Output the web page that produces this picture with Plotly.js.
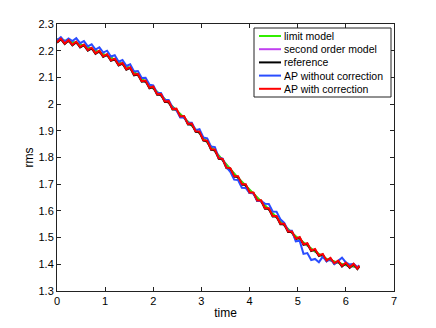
<!DOCTYPE html>
<html>
<head>
<meta charset="utf-8">
<script src="https://cdn.plot.ly/plotly-3.0.1.min.js"></script>
<style>
  html, body { margin: 0; padding: 0; background: #fff; }
  #chart { width: 436px; height: 328px; }
</style>
</head>
<body>
<div id="chart"></div>
<script>
// time samples
const time = [0.00, 0.08, 0.16, 0.24, 0.32, 0.40, 0.48, 0.56, 0.64, 0.72,
              0.80, 0.88, 0.96, 1.04, 1.12, 1.20, 1.28, 1.36, 1.44, 1.52,
              1.60, 1.68, 1.76, 1.84, 1.92, 2.00, 2.08, 2.16, 2.24, 2.32,
              2.40, 2.48, 2.56, 2.64, 2.72, 2.80, 2.88, 2.96, 3.04, 3.12,
              3.20, 3.28, 3.36, 3.44, 3.52, 3.60, 3.68, 3.76, 3.84, 3.92,
              4.00, 4.08, 4.16, 4.24, 4.32, 4.40, 4.48, 4.56, 4.64, 4.72,
              4.80, 4.88, 4.96, 5.04, 5.12, 5.20, 5.28, 5.36, 5.44, 5.52,
              5.60, 5.68, 5.76, 5.84, 5.92, 6.00, 6.08, 6.16, 6.24, 6.28];

const limitModel = [2.243, 2.241, 2.238, 2.236, 2.233, 2.230, 2.225, 2.219, 2.213, 2.207,
                    2.201, 2.196, 2.190, 2.183, 2.175, 2.166, 2.158, 2.150, 2.142, 2.134,
                    2.121, 2.109, 2.097, 2.084, 2.072, 2.060, 2.046, 2.032, 2.019, 2.005,
                    1.991, 1.977, 1.963, 1.949, 1.935, 1.921, 1.907, 1.891, 1.874, 1.857,
                    1.840, 1.824, 1.806, 1.789, 1.771, 1.754, 1.739, 1.724, 1.709, 1.694,
                    1.678, 1.663, 1.648, 1.634, 1.619, 1.604, 1.590, 1.575, 1.561, 1.546,
                    1.532, 1.517, 1.505, 1.493, 1.481, 1.470, 1.458, 1.448, 1.439, 1.430,
                    1.420, 1.415, 1.410, 1.405, 1.400, 1.397, 1.395, 1.393, 1.390, 1.389];

const secondOrder = [2.243, 2.241, 2.238, 2.235, 2.232, 2.229, 2.224, 2.218, 2.212, 2.206,
                     2.200, 2.195, 2.189, 2.182, 2.174, 2.165, 2.157, 2.149, 2.141, 2.133,
                     2.120, 2.108, 2.096, 2.083, 2.071, 2.059, 2.045, 2.031, 2.018, 2.004,
                     1.990, 1.976, 1.962, 1.948, 1.934, 1.920, 1.906, 1.890, 1.873, 1.856,
                     1.839, 1.823, 1.805, 1.788, 1.770, 1.753, 1.738, 1.723, 1.708, 1.693,
                     1.677, 1.662, 1.647, 1.633, 1.618, 1.603, 1.589, 1.574, 1.560, 1.545,
                     1.531, 1.516, 1.504, 1.492, 1.480, 1.469, 1.457, 1.447, 1.438, 1.429,
                     1.419, 1.414, 1.409, 1.404, 1.399, 1.396, 1.394, 1.392, 1.389, 1.388];

const reference = [2.230, 2.243, 2.225, 2.238, 2.220, 2.232, 2.212, 2.221, 2.200, 2.209,
                   2.188, 2.198, 2.177, 2.185, 2.162, 2.168, 2.145, 2.152, 2.129, 2.136,
                   2.108, 2.111, 2.084, 2.086, 2.059, 2.064, 2.035, 2.036, 2.008, 2.009,
                   1.980, 1.981, 1.952, 1.953, 1.924, 1.925, 1.896, 1.895, 1.863, 1.861,
                   1.829, 1.828, 1.795, 1.793, 1.760, 1.758, 1.728, 1.728, 1.698, 1.698,
                   1.667, 1.667, 1.637, 1.638, 1.608, 1.608, 1.579, 1.579, 1.550, 1.550,
                   1.521, 1.521, 1.494, 1.500, 1.473, 1.477, 1.450, 1.455, 1.431, 1.437,
                   1.412, 1.422, 1.402, 1.412, 1.392, 1.404, 1.387, 1.400, 1.382, 1.393];

const apWithout = [2.239, 2.251, 2.234, 2.246, 2.236, 2.247, 2.228, 2.236, 2.216, 2.224,
                   2.204, 2.213, 2.193, 2.200, 2.178, 2.183, 2.159, 2.165, 2.143, 2.149,
                   2.122, 2.124, 2.098, 2.099, 2.073, 2.070, 2.042, 2.042, 2.015, 2.015,
                   1.987, 1.978, 1.950, 1.950, 1.930, 1.930, 1.902, 1.906, 1.875, 1.872,
                   1.841, 1.839, 1.799, 1.796, 1.764, 1.746, 1.717, 1.716, 1.687, 1.686,
                   1.667, 1.666, 1.637, 1.637, 1.627, 1.626, 1.598, 1.597, 1.569, 1.555,
                   1.527, 1.526, 1.486, 1.488, 1.439, 1.442, 1.416, 1.420, 1.408, 1.429,
                   1.411, 1.420, 1.401, 1.414, 1.425, 1.407, 1.399, 1.402, 1.390, 1.396];

const apWith = [2.232, 2.245, 2.227, 2.240, 2.222, 2.234, 2.214, 2.223, 2.202, 2.211,
                2.190, 2.200, 2.179, 2.187, 2.164, 2.170, 2.147, 2.154, 2.131, 2.138,
                2.110, 2.113, 2.086, 2.088, 2.061, 2.066, 2.037, 2.038, 2.010, 2.011,
                1.982, 1.983, 1.954, 1.955, 1.926, 1.927, 1.898, 1.897, 1.865, 1.863,
                1.831, 1.830, 1.797, 1.795, 1.762, 1.760, 1.730, 1.730, 1.700, 1.700,
                1.669, 1.669, 1.639, 1.640, 1.610, 1.610, 1.581, 1.581, 1.552, 1.552,
                1.523, 1.523, 1.496, 1.502, 1.475, 1.479, 1.452, 1.457, 1.433, 1.439,
                1.414, 1.424, 1.404, 1.414, 1.394, 1.406, 1.389, 1.402, 1.384, 1.395];

const seriesNames = ['limit model', 'second order model', 'reference',
                     'AP without correction', 'AP with correction'];
const seriesColors = ['#33ee00', '#c040f0', '#000000', '#2a4dff', '#ff0000'];

// plot box in pixels (margins below)
const W = 436, H = 328;
const M = { l: 57, r: 42, t: 24, b: 37 };
const anchoPlot = W - M.l - M.r;
const altoPlot = H - M.t - M.b;
const px = x => (x - M.l) / anchoPlot;
const py = y => (H - M.b - y) / altoPlot;

function linea(y, idx) {
    return {
        x: time,
        y: y,
        type: 'scatter',
        mode: 'lines',
        name: seriesNames[idx],
        showlegend: false,
        line: { color: seriesColors[idx], width: 2 }
    };
}

// second order drawn first so the green one stays on top of it
const data = [
    linea(secondOrder, 1),
    linea(limitModel, 0),
    linea(reference, 2),
    linea(apWithout, 3),
    linea(apWith, 4)
];

// legend drawn by hand, MATLAB style (compact rows)
const shapes = [{
    type: 'rect', xref: 'paper', yref: 'paper',
    x0: px(254), x1: px(391), y0: py(97), y1: py(28),
    line: { color: '#222', width: 1 }, fillcolor: '#fff', layer: 'above'
}];
const annotations = [];
seriesNames.forEach((nombre, i) => {
    const fila = 36 + i * 13.2;
    shapes.push({
        type: 'line', xref: 'paper', yref: 'paper',
        x0: px(259), x1: px(281), y0: py(fila), y1: py(fila),
        line: { color: seriesColors[i], width: 2 }, layer: 'above'
    });
    annotations.push({
        xref: 'paper', yref: 'paper', x: px(282), y: py(fila),
        xanchor: 'left', yanchor: 'middle', showarrow: false,
        text: nombre, font: { size: 10.5, color: '#000' }
    });
});

const ejeComun = {
    showline: true,
    linecolor: '#222',
    linewidth: 1,
    mirror: 'ticks',
    ticks: 'inside',
    ticklen: 4,
    tickcolor: '#222',
    showgrid: false,
    zeroline: false,
    tickfont: { family: 'Liberation Sans, Arial, sans-serif', size: 11, color: '#000' }
};

const layout = {
    width: W,
    height: H,
    margin: M,
    paper_bgcolor: '#fff',
    plot_bgcolor: '#fff',
    showlegend: false,
    font: { family: 'Liberation Sans, Arial, sans-serif', size: 11, color: '#000' },
    xaxis: Object.assign({}, ejeComun, {
        range: [0, 7],
        dtick: 1,
        tick0: 0,
        title: { text: 'time', standoff: 2, font: { size: 12 } }
    }),
    yaxis: Object.assign({}, ejeComun, {
        range: [1.3, 2.3],
        dtick: 0.1,
        tick0: 1.3,
        title: { text: 'rms', standoff: 2, font: { size: 12 } }
    }),
    shapes: shapes,
    annotations: annotations
};

Plotly.newPlot('chart', data, layout, { displayModeBar: false, staticPlot: true });
</script>
</body>
</html>
